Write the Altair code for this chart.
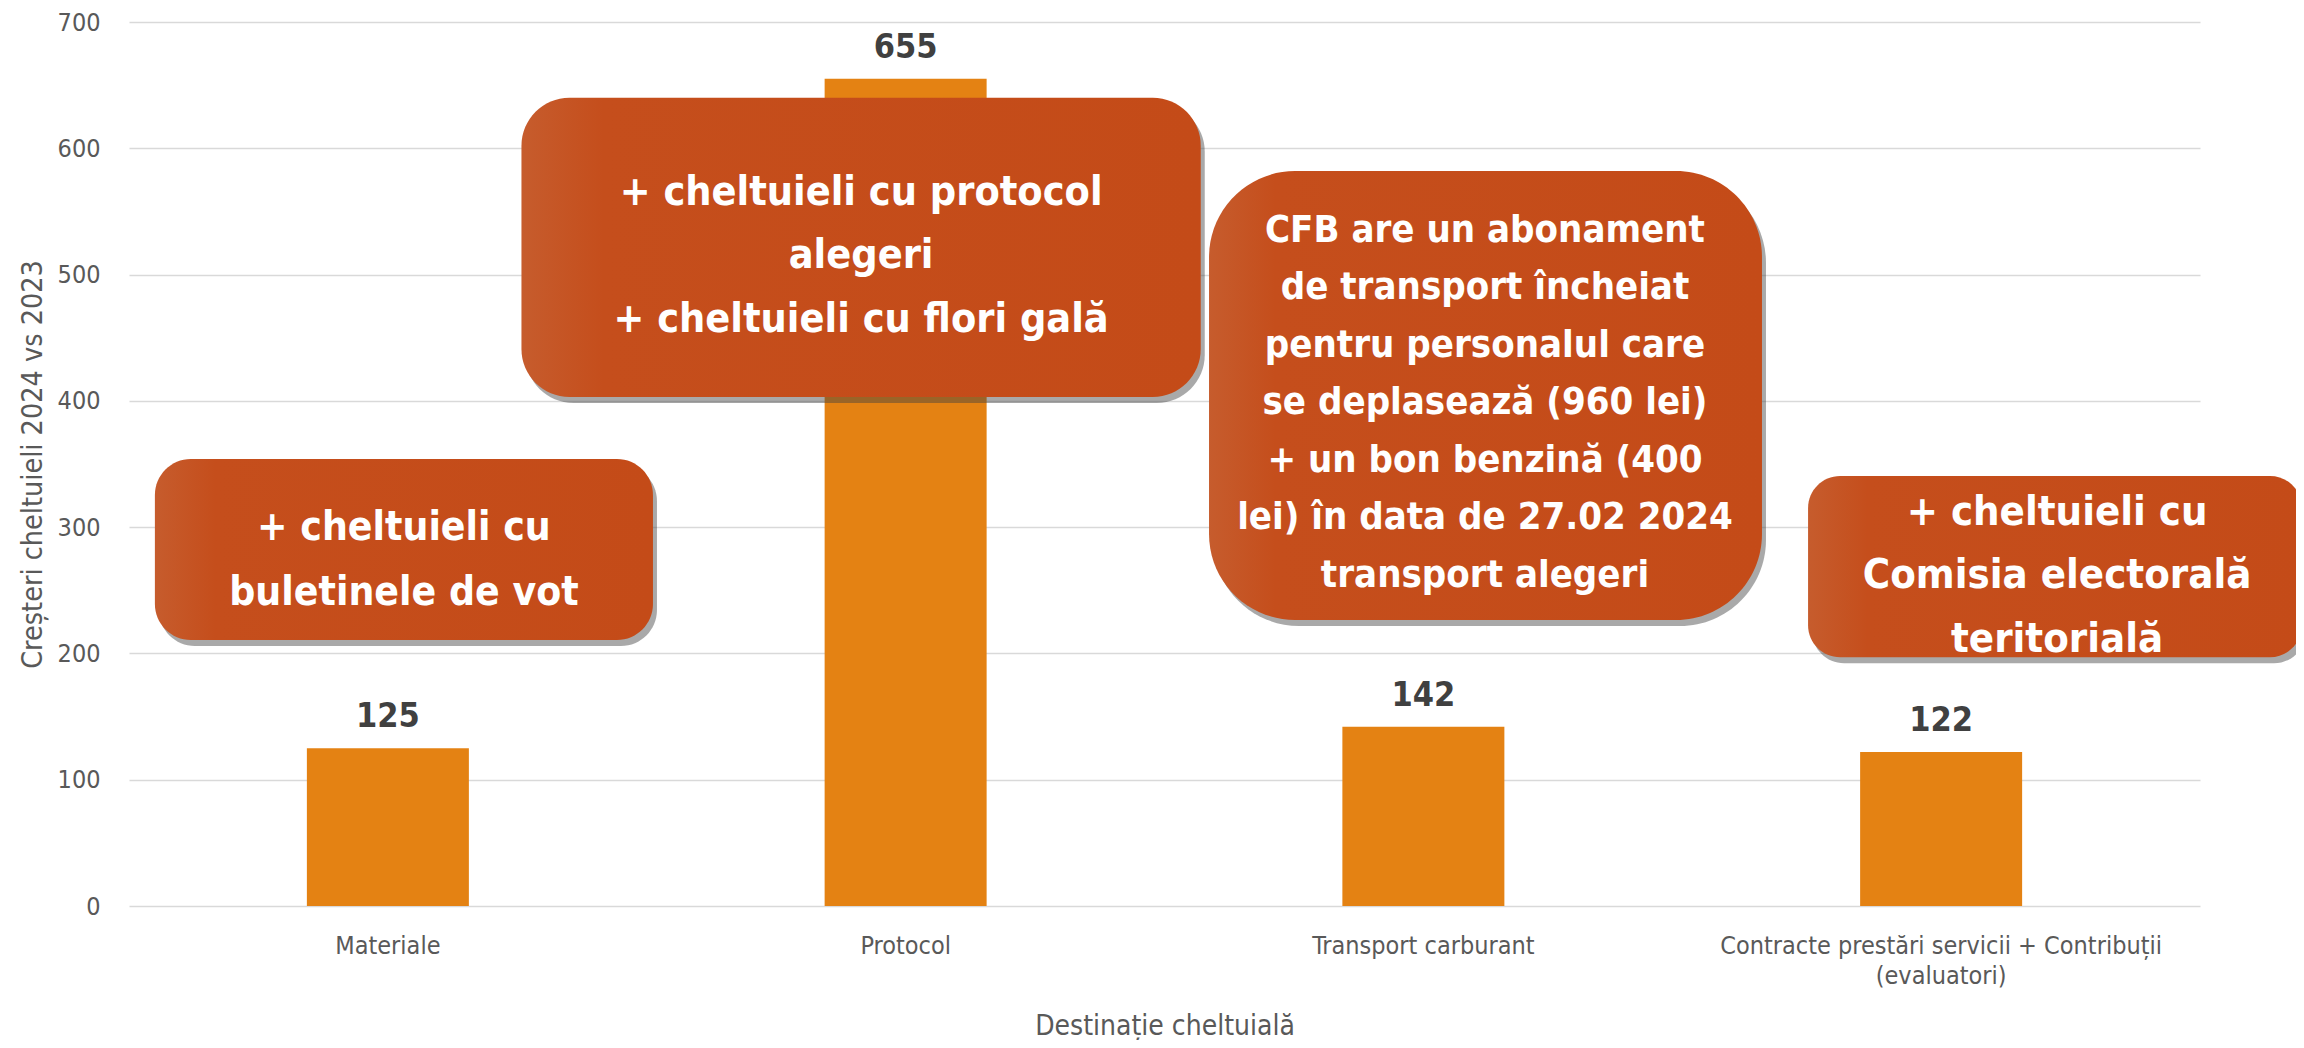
import altair as alt
import pandas as pd

# ---- data -------------------------------------------------------------
categories = ["Materiale", "Protocol", "Transport carburant",
              "Contracte prestări servicii + Contribuții\n(evaluatori)"]
values = [125, 655, 142, 122]

note_texts = [
    "+ cheltuieli cu\nbuletinele de vot",
    "+ cheltuieli cu protocol\nalegeri\n+ cheltuieli cu flori gală",
    "CFB are un abonament\nde transport încheiat\npentru personalul care\nse deplasează (960 lei)\n+ un bon benzină (400\nlei) în data de 27.02 2024\ntransport alegeri",
    "+ cheltuieli cu\nComisia electorală\nteritorială",
]
# annotation boxes: x in category-slot units (0..4), y in value units
note_x1 = [0.05, 0.758, 2.086, 3.243]
note_x2 = [1.012, 2.07, 3.154, 4.197]
note_y1 = [210.6, 403.0, 226.5, 197.0]
note_y2 = [354.0, 640.0, 582.0, 340.5]
note_tx = [0.531, 1.414, 2.619, 3.724]
note_ty = [289.8, 555.1, 525.8, 301.7]
note_fs = [40.5, 41, 38, 41.5]
note_lh = [65, 63.5, 57.5, 63.5]
note_r = [36, 48, 86, 32]

NARROW = "DejaVu Sans Condensed, Liberation Sans, sans-serif"
GREY = "#595959"

df = pd.DataFrame({"cat": categories, "val": values})
notes = pd.DataFrame({"text": note_texts, "x1": note_x1, "x2": note_x2,
                      "y1": note_y1, "y2": note_y2, "tx": note_tx, "ty": note_ty})

yscale = alt.Scale(domain=[0, 700], nice=False, zero=True)

xaxis = alt.Axis(title="Destinație cheltuială", titleFont=NARROW, titleFontSize=28,
                 titleColor=GREY, titleFontWeight="normal", titleBaseline="alphabetic",
                 titleY=128, labelFont=NARROW, labelFontSize=25, labelColor=GREY,
                 labelPadding=27, ticks=False, tickSize=0, domain=False, labelAngle=0,
                 labelExpr="split(datum.label, '\\n')", labelLineHeight=30,
                 grid=False, labelLimit=0)
yaxis = alt.Axis(title="Creșteri cheltuieli 2024 vs 2023", titleFont=NARROW,
                 titleFontSize=28.5, titleColor=GREY, titleFontWeight="normal",
                 titleX=-88, titleY=442, titleBaseline="alphabetic",
                 labelFont=NARROW, labelFontSize=25, labelColor=GREY, labelPadding=29,
                 ticks=False, tickSize=0, domain=False, gridColor="#D9D9D9",
                 gridWidth=1.5, values=[0, 100, 200, 300, 400, 500, 600, 700])

xband = alt.X("cat:N", sort=categories,
              scale=alt.Scale(paddingInner=0, paddingOuter=0), axis=xaxis)

bars = alt.Chart(df).mark_bar(size=162, color="#E48213").encode(
    x=xband, y=alt.Y("val:Q", scale=yscale, axis=yaxis))

labels = alt.Chart(df).mark_text(dy=-21, baseline="alphabetic", font=NARROW,
                                 fontWeight="bold", fontSize=34, color="#404040").encode(
    x=alt.X("cat:N", sort=categories), y=alt.Y("val:Q"), text=alt.Text("val:Q"))

nx = alt.Scale(domain=[0, 4], nice=False, zero=False)
ny = alt.Scale(domain=[0, 700], nice=False, zero=False)

layers_notes = []
for i in range(len(note_texts)):
    sub = notes.iloc[[i]]
    shadow = alt.Chart(sub).mark_rect(cornerRadius=note_r[i], color="#404040",
                                      opacity=0.45, xOffset=4, x2Offset=4,
                                      yOffset=6, y2Offset=6).encode(
        x=alt.X("x1:Q", scale=nx, axis=None), x2="x2",
        y=alt.Y("y1:Q", scale=ny, axis=None), y2="y2")
    box = alt.Chart(sub).mark_rect(cornerRadius=note_r[i], color={
        "gradient": "linear", "x1": 0, "x2": 1, "y1": 0, "y2": 0,
        "stops": [{"offset": 0, "color": "#C65C2D"},
                  {"offset": 0.12, "color": "#C54E1C"},
                  {"offset": 1, "color": "#C44B18"}]}).encode(
        x=alt.X("x1:Q", scale=nx, axis=None), x2="x2",
        y=alt.Y("y1:Q", scale=ny, axis=None), y2="y2")
    txt = alt.Chart(sub).mark_text(align="center", baseline="alphabetic", lineBreak="\n",
                                   lineHeight=note_lh[i], fontSize=note_fs[i], font=NARROW,
                                   fontWeight="bold", color="white").encode(
        x=alt.X("tx:Q", scale=nx, axis=None), y=alt.Y("ty:Q", scale=ny, axis=None),
        text="text:N")
    layers_notes += [shadow, box, txt]

notes_layer = alt.layer(*layers_notes)

chart = alt.layer(alt.layer(bars, labels), notes_layer).resolve_scale(
    x="independent", y="independent").resolve_axis(
    x="independent", y="independent").properties(
    width=2071, height=884,
    background="white",
    autosize=alt.AutoSizeParams(type="none"),
    padding={"left": 121, "top": 14, "right": 96, "bottom": 134},
).configure_view(stroke="transparent", strokeWidth=0)

chart.save("out.html", embed_options={"renderer": "svg", "actions": False})
